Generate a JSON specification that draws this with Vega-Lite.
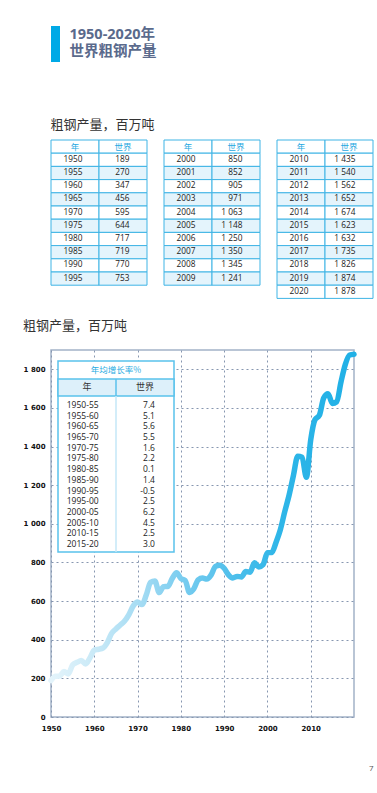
{
  "$schema": "https://vega.github.io/schema/vega-lite/v6.json",
  "background": "white",
  "padding": {"left": 22, "top": 26, "right": 0, "bottom": 0},
  "config": {
    "locale": {"number": {"decimal": ".", "thousands": " ", "grouping": [3], "currency": ["", ""], "minus": "-"}},
    "font": "Open Sans",
    "view": {"stroke": null}
  },
  "title": {"text": "7", "orient": "bottom", "anchor": "end", "fontSize": 8, "fontWeight": "normal", "color": "#555555", "offset": 33},
  "datasets": {
    "steel": [
      {"year": 1950, "value": 189}, {"year": 1951, "value": 211}, {"year": 1952, "value": 212}, {"year": 1953, "value": 235}, {"year": 1954, "value": 223},
      {"year": 1955, "value": 270}, {"year": 1956, "value": 283}, {"year": 1957, "value": 292}, {"year": 1958, "value": 274}, {"year": 1959, "value": 306},
      {"year": 1960, "value": 347}, {"year": 1961, "value": 351}, {"year": 1962, "value": 357}, {"year": 1963, "value": 385}, {"year": 1964, "value": 433},
      {"year": 1965, "value": 456}, {"year": 1966, "value": 476}, {"year": 1967, "value": 497}, {"year": 1968, "value": 530}, {"year": 1969, "value": 575},
      {"year": 1970, "value": 595}, {"year": 1971, "value": 582}, {"year": 1972, "value": 631}, {"year": 1973, "value": 697}, {"year": 1974, "value": 704},
      {"year": 1975, "value": 644}, {"year": 1976, "value": 675}, {"year": 1977, "value": 676}, {"year": 1978, "value": 717}, {"year": 1979, "value": 747},
      {"year": 1980, "value": 717}, {"year": 1981, "value": 707}, {"year": 1982, "value": 645}, {"year": 1983, "value": 664}, {"year": 1984, "value": 710},
      {"year": 1985, "value": 719}, {"year": 1986, "value": 714}, {"year": 1987, "value": 736}, {"year": 1988, "value": 780}, {"year": 1989, "value": 786},
      {"year": 1990, "value": 770}, {"year": 1991, "value": 736}, {"year": 1992, "value": 720}, {"year": 1993, "value": 728}, {"year": 1994, "value": 725},
      {"year": 1995, "value": 753}, {"year": 1996, "value": 750}, {"year": 1997, "value": 799}, {"year": 1998, "value": 777}, {"year": 1999, "value": 789},
      {"year": 2000, "value": 850}, {"year": 2001, "value": 852}, {"year": 2002, "value": 905}, {"year": 2003, "value": 971}, {"year": 2004, "value": 1063},
      {"year": 2005, "value": 1148}, {"year": 2006, "value": 1250}, {"year": 2007, "value": 1350}, {"year": 2008, "value": 1345}, {"year": 2009, "value": 1241},
      {"year": 2010, "value": 1435}, {"year": 2011, "value": 1540}, {"year": 2012, "value": 1562}, {"year": 2013, "value": 1652}, {"year": 2014, "value": 1674},
      {"year": 2015, "value": 1623}, {"year": 2016, "value": 1632}, {"year": 2017, "value": 1735}, {"year": 2018, "value": 1826}, {"year": 2019, "value": 1874},
      {"year": 2020, "value": 1878}
    ],
    "growth": [
      {"period": "1950-55", "rate": 7.4}, {"period": "1955-60", "rate": 5.1}, {"period": "1960-65", "rate": 5.6}, {"period": "1965-70", "rate": 5.5},
      {"period": "1970-75", "rate": 1.6}, {"period": "1975-80", "rate": 2.2}, {"period": "1980-85", "rate": 0.1}, {"period": "1985-90", "rate": 1.4},
      {"period": "1990-95", "rate": -0.5}, {"period": "1995-00", "rate": 2.5}, {"period": "2000-05", "rate": 6.2}, {"period": "2005-10", "rate": 4.5},
      {"period": "2010-15", "rate": 2.5}, {"period": "2015-20", "rate": 3.0}
    ],
    "tableHeader": [
      {"col": "year", "r": 0, "t": "年"}, {"col": "value", "r": 0, "t": "世界"}
    ],
    "pageTitle": [
      {"line": 1, "t": "1950-2020年"}, {"line": 2, "t": "世界粗钢产量"}
    ]
  },
  "spacing": 20,
  "vconcat": [
    {
      "spacing": 56,
      "vconcat": [
        {
          "spacing": 9,
          "hconcat": [
            {
              "width": 9,
              "height": 36,
              "data": {"values": [{"part": "bar"}]},
              "mark": {"type": "rect", "fill": "#00a9e6"},
              "encoding": {}
            },
            {
              "width": 1,
              "height": 35,
              "data": {"name": "pageTitle"},
              "mark": {"type": "text", "align": "left", "baseline": "middle", "fontSize": 14.5, "fontWeight": "bold", "color": "#5a6a8c", "font": "Open Sans, Noto Sans CJK SC"},
              "encoding": {
                "y": {"field": "line", "type": "ordinal", "scale": {"paddingInner": 0, "paddingOuter": 0}, "axis": null},
                "text": {"field": "t"}
              }
            }
          ]
        },
        {
          "title": {"text": "粗钢产量，百万吨", "anchor": "start", "fontSize": 13, "fontWeight": "normal", "color": "#333333", "offset": 8, "font": "Noto Sans CJK SC"},
          "spacing": 15,
          "hconcat": [
            {
              "width": 96,
              "height": {"step": 13.2},
              "layer": [
                {
                  "data": {"name": "tableHeader"},
                  "layer": [
                    {"mark": {"type": "rect", "fill": "white", "stroke": "#3fb4e5", "strokeWidth": 1},
                     "encoding": {
                       "x": {"field": "col", "type": "nominal", "scale": {"domain": ["year", "value"], "paddingInner": 0, "paddingOuter": 0}, "axis": null},
                       "y": {"field": "r", "type": "ordinal", "scale": {"paddingInner": 0, "paddingOuter": 0}, "axis": null}}},
                    {"mark": {"type": "text", "color": "#1fa8e1", "fontSize": 8.5, "font": "Noto Sans CJK SC"},
                     "encoding": {"x": {"field": "col", "type": "nominal"}, "y": {"field": "r", "type": "ordinal"}, "text": {"field": "t"}}}
                  ]
                },
                {
                  "data": {"name": "steel"},
                  "transform": [
                    {"filter": "datum.year < 2000 && datum.year % 5 == 0"},
                    {"window": [{"op": "row_number", "as": "r"}], "sort": [{"field": "year", "order": "ascending"}]}
                  ],
                  "layer": [
                    {"transform": [{"fold": ["year", "value"], "as": ["k", "fv"]}],
                     "mark": {"type": "rect", "stroke": "#3fb4e5", "strokeWidth": 1},
                     "encoding": {
                       "x": {"field": "k", "type": "nominal"},
                       "y": {"field": "r", "type": "ordinal"},
                       "fill": {"condition": {"test": "datum.r % 2 == 0", "value": "#e4f4fc"}, "value": "white"}}},
                    {"mark": {"type": "text", "fontSize": 8.3, "color": "#222222", "dx": -2},
                     "encoding": {"x": {"datum": "year"}, "y": {"field": "r", "type": "ordinal"}, "text": {"field": "year", "type": "nominal"}}},
                    {"mark": {"type": "text", "fontSize": 8.3, "color": "#222222", "align": "right", "dx": 6.5},
                     "encoding": {"x": {"datum": "value"}, "y": {"field": "r", "type": "ordinal"}, "text": {"field": "value", "type": "quantitative", "format": ",d"}}}
                  ]
                }
              ]
            },
            {
              "width": 96,
              "height": {"step": 13.2},
              "layer": [
                {
                  "data": {"name": "tableHeader"},
                  "layer": [
                    {"mark": {"type": "rect", "fill": "white", "stroke": "#3fb4e5", "strokeWidth": 1},
                     "encoding": {
                       "x": {"field": "col", "type": "nominal", "scale": {"domain": ["year", "value"], "paddingInner": 0, "paddingOuter": 0}, "axis": null},
                       "y": {"field": "r", "type": "ordinal", "scale": {"paddingInner": 0, "paddingOuter": 0}, "axis": null}}},
                    {"mark": {"type": "text", "color": "#1fa8e1", "fontSize": 8.5, "font": "Noto Sans CJK SC"},
                     "encoding": {"x": {"field": "col", "type": "nominal"}, "y": {"field": "r", "type": "ordinal"}, "text": {"field": "t"}}}
                  ]
                },
                {
                  "data": {"name": "steel"},
                  "transform": [
                    {"filter": "datum.year >= 2000 && datum.year < 2010"},
                    {"window": [{"op": "row_number", "as": "r"}], "sort": [{"field": "year", "order": "ascending"}]}
                  ],
                  "layer": [
                    {"transform": [{"fold": ["year", "value"], "as": ["k", "fv"]}],
                     "mark": {"type": "rect", "stroke": "#3fb4e5", "strokeWidth": 1},
                     "encoding": {
                       "x": {"field": "k", "type": "nominal"},
                       "y": {"field": "r", "type": "ordinal"},
                       "fill": {"condition": {"test": "datum.r % 2 == 0", "value": "#e4f4fc"}, "value": "white"}}},
                    {"mark": {"type": "text", "fontSize": 8.3, "color": "#222222", "dx": -2},
                     "encoding": {"x": {"datum": "year"}, "y": {"field": "r", "type": "ordinal"}, "text": {"field": "year", "type": "nominal"}}},
                    {"mark": {"type": "text", "fontSize": 8.3, "color": "#222222", "align": "right", "dx": 6.5},
                     "encoding": {"x": {"datum": "value"}, "y": {"field": "r", "type": "ordinal"}, "text": {"field": "value", "type": "quantitative", "format": ",d"}}}
                  ]
                }
              ]
            },
            {
              "width": 96,
              "height": {"step": 13.2},
              "layer": [
                {
                  "data": {"name": "tableHeader"},
                  "layer": [
                    {"mark": {"type": "rect", "fill": "white", "stroke": "#3fb4e5", "strokeWidth": 1},
                     "encoding": {
                       "x": {"field": "col", "type": "nominal", "scale": {"domain": ["year", "value"], "paddingInner": 0, "paddingOuter": 0}, "axis": null},
                       "y": {"field": "r", "type": "ordinal", "scale": {"paddingInner": 0, "paddingOuter": 0}, "axis": null}}},
                    {"mark": {"type": "text", "color": "#1fa8e1", "fontSize": 8.5, "font": "Noto Sans CJK SC"},
                     "encoding": {"x": {"field": "col", "type": "nominal"}, "y": {"field": "r", "type": "ordinal"}, "text": {"field": "t"}}}
                  ]
                },
                {
                  "data": {"name": "steel"},
                  "transform": [
                    {"filter": "datum.year >= 2010"},
                    {"window": [{"op": "row_number", "as": "r"}], "sort": [{"field": "year", "order": "ascending"}]}
                  ],
                  "layer": [
                    {"transform": [{"fold": ["year", "value"], "as": ["k", "fv"]}],
                     "mark": {"type": "rect", "stroke": "#3fb4e5", "strokeWidth": 1},
                     "encoding": {
                       "x": {"field": "k", "type": "nominal"},
                       "y": {"field": "r", "type": "ordinal"},
                       "fill": {"condition": {"test": "datum.r % 2 == 0", "value": "#e4f4fc"}, "value": "white"}}},
                    {"mark": {"type": "text", "fontSize": 8.3, "color": "#222222", "dx": -2},
                     "encoding": {"x": {"datum": "year"}, "y": {"field": "r", "type": "ordinal"}, "text": {"field": "year", "type": "nominal"}}},
                    {"mark": {"type": "text", "fontSize": 8.3, "color": "#222222", "align": "right", "dx": 6.5},
                     "encoding": {"x": {"datum": "value"}, "y": {"field": "r", "type": "ordinal"}, "text": {"field": "value", "type": "quantitative", "format": ",d"}}}
                  ]
                }
              ]
            }
          ]
        }
      ]
    },
    {
      "title": {"text": "粗钢产量，百万吨", "anchor": "start", "fontSize": 13, "fontWeight": "normal", "color": "#333333", "offset": 17, "font": "Noto Sans CJK SC"},
      "width": 303,
      "height": 367,
      "view": {"stroke": "#a3b2c8", "strokeWidth": 1.5},
      "resolve": {"scale": {"x": "independent", "y": "independent"}},
      "layer": [
        {
          "data": {"name": "steel"},
          "mark": {
            "type": "line", "strokeWidth": 5.5, "strokeCap": "round", "strokeJoin": "round", "interpolate": "monotone",
            "stroke": {"gradient": "linear", "x1": 0, "y1": 0, "x2": 1, "y2": 0, "stops": [
              {"offset": 0, "color": "#e4f4fb"}, {"offset": 0.15, "color": "#c8e9f7"}, {"offset": 0.3, "color": "#a3dbf3"},
              {"offset": 0.45, "color": "#74cbef"}, {"offset": 0.6, "color": "#4ebfeb"}, {"offset": 0.75, "color": "#2fb6e8"}, {"offset": 1, "color": "#20b0e6"}]}
          },
          "encoding": {
            "x": {"field": "year", "type": "quantitative", "scale": {"domain": [1950, 2020], "nice": false, "zero": false},
                  "axis": {"values": [1950, 1960, 1970, 1980, 1990, 2000, 2010], "format": "d", "title": null,
                           "labelFont": "DejaVu Sans", "labelFontWeight": "bold", "labelFontSize": 7, "labelColor": "#111111",
                           "labelPadding": 7, "ticks": false, "domain": false, "labelFlush": false,
                           "grid": true, "gridDash": [2, 3], "gridColor": "#8797b0", "gridWidth": 1}},
            "y": {"field": "value", "type": "quantitative", "scale": {"domain": [0, 1900], "nice": false},
                  "axis": {"values": [0, 200, 400, 600, 800, 1000, 1200, 1400, 1600, 1800], "format": ",d", "title": null,
                           "labelFont": "DejaVu Sans", "labelFontWeight": "bold", "labelFontSize": 7, "labelColor": "#111111",
                           "labelPadding": 6, "ticks": false, "domain": false, "minExtent": 28, "maxExtent": 28,
                           "grid": true, "gridDash": [2, 3], "gridColor": "#8797b0", "gridWidth": 1}}
          }
        },
        {
          "layer": [
            {
              "data": {"values": [{"part": "box"}]},
              "mark": {"type": "rect", "fill": "white", "stroke": "#5ac2ec", "strokeWidth": 1.5},
              "encoding": {
                "x": {"datum": 0, "type": "quantitative", "scale": {"domain": [-0.1207, 5.1034], "nice": false, "zero": false}, "axis": null},
                "x2": {"datum": 2},
                "y": {"datum": -3.115, "type": "quantitative", "scale": {"domain": [-4.144, 30.18], "nice": false, "zero": false, "reverse": true}, "axis": null},
                "y2": {"datum": 14.75}
              }
            },
            {
              "data": {"values": [{"part": "header"}]},
              "mark": {"type": "rect", "fill": "#ddf0fa", "stroke": "#5ac2ec", "strokeWidth": 1.5},
              "encoding": {"x": {"datum": 0}, "x2": {"datum": 2}, "y": {"datum": -1.432}, "y2": {"datum": 0.158}}
            },
            {
              "data": {"values": [{"part": "headerDivider"}]},
              "mark": {"type": "rule", "stroke": "#5ac2ec", "strokeWidth": 1.5},
              "encoding": {"x": {"datum": 1}, "y": {"datum": -1.432}, "y2": {"datum": 0.158}}
            },
            {
              "data": {"values": [{"part": "bodyDivider"}]},
              "mark": {"type": "rule", "stroke": "#c4e7f7", "strokeWidth": 1.5},
              "encoding": {"x": {"datum": 1}, "y": {"datum": 0.158}, "y2": {"datum": 14.75}}
            },
            {
              "data": {"values": [{"t": "年均增长率%"}]},
              "mark": {"type": "text", "color": "#29abe2", "fontSize": 8.5, "font": "Noto Sans CJK SC"},
              "encoding": {"x": {"datum": 1}, "y": {"datum": -2.27}, "text": {"field": "t"}}
            },
            {
              "data": {"values": [{"t": "年", "c": 0.5}, {"t": "世界", "c": 1.5}]},
              "mark": {"type": "text", "color": "#333333", "fontSize": 9, "font": "Noto Sans CJK SC"},
              "encoding": {"x": {"field": "c", "type": "quantitative"}, "y": {"datum": -0.637}, "text": {"field": "t"}}
            },
            {
              "data": {"name": "growth"},
              "transform": [{"window": [{"op": "row_number", "as": "idx"}]}],
              "layer": [
                {"mark": {"type": "text", "align": "left", "fontSize": 8.5, "color": "#222222"},
                 "encoding": {"x": {"datum": 0.15}, "y": {"field": "idx", "type": "quantitative"}, "text": {"field": "period"}}},
                {"mark": {"type": "text", "align": "right", "fontSize": 8.5, "color": "#222222"},
                 "encoding": {"x": {"datum": 1.672}, "y": {"field": "idx", "type": "quantitative"}, "text": {"field": "rate", "type": "quantitative", "format": ".1f"}}}
              ]
            }
          ]
        }
      ]
    }
  ]
}
